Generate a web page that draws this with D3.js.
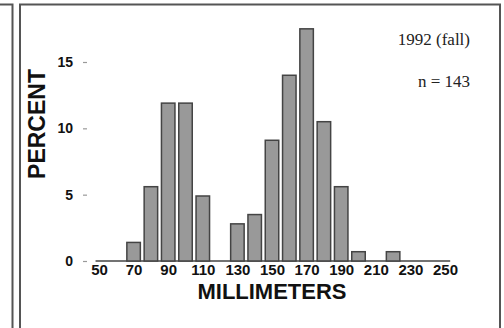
<!DOCTYPE html>
<html>
<head>
<meta charset="utf-8">
<script src="https://cdn.jsdelivr.net/npm/d3@7"></script>
<style>
  body { margin: 0; background: #fff; }
  svg { display: block; }
</style>
</head>
<body>
<div id="chart"></div>
<script>
// bin centres in millimeters and percent of fish in each bin
var sizes = [70, 80, 90, 100, 110, 130, 140, 150, 160, 170, 180, 190, 200, 220];
var percents = [1.4, 5.6, 11.9, 11.9, 4.9, 2.8, 3.5, 9.1, 14.0, 17.5, 10.5, 5.6, 0.7, 0.7];
var xTicks = [50, 70, 90, 110, 130, 150, 170, 190, 210, 230, 250];
var yTicks = [0, 5, 10, 15];

var width = 504, height = 328;

var svg = d3.select('#chart').append('svg')
    .attr('width', width)
    .attr('height', height);

// frame lines of the scanned page
svg.append('path')
    .attr('d', 'M0,4.5H12.5V328')
    .attr('fill', 'none')
    .attr('stroke', '#555')
    .attr('stroke-width', 2);
svg.append('rect')
    .attr('x', 20).attr('y', 4.5)
    .attr('width', 480).attr('height', 340)
    .attr('fill', 'none')
    .attr('stroke', '#555')
    .attr('stroke-width', 2);

// set the ranges
var x = d3.scaleLinear().domain([50, 250]).range([99, 445]);
var y = d3.scaleLinear().domain([0, 15]).range([261, 62]);

var binHalf = 3.9;

// baseline
svg.append('line')
    .attr('x1', x(48)).attr('x2', x(253))
    .attr('y1', y(0)).attr('y2', y(0))
    .attr('stroke', '#444')
    .attr('stroke-width', 1.5);

// bars
svg.selectAll('rect.bar')
    .data(sizes)
  .enter().append('rect')
    .attr('class', 'bar')
    .attr('x', function(d) { return x(d - binHalf); })
    .attr('width', function(d) { return x(d + binHalf) - x(d - binHalf); })
    .attr('y', function(d, i) { return y(percents[i]); })
    .attr('height', function(d, i) { return y(0) - y(percents[i]); })
    .attr('fill', '#999')
    .attr('stroke', '#444')
    .attr('stroke-width', 1.5);

// x axis labels
var xAxis = d3.axisBottom(x)
    .tickValues(xTicks)
    .tickSize(0)
    .tickPadding(0);
var gx = svg.append('g')
    .attr('transform', 'translate(0,' + 264 + ')')
    .call(xAxis);
gx.select('.domain').remove();
gx.selectAll('text')
    .attr('dy', '0.71em')
    .attr('font-family', 'Liberation Sans, Arial, sans-serif')
    .attr('font-weight', 'bold')
    .attr('font-size', '15px')
    .attr('fill', '#111');

// y axis: short dashes and labels, no axis line
var yAxis = d3.axisLeft(y)
    .tickValues(yTicks)
    .tickSize(4)
    .tickPadding(10);
var gy = svg.append('g')
    .attr('transform', 'translate(' + 87 + ',0)')
    .call(yAxis);
gy.select('.domain').remove();
gy.selectAll('.tick line')
    .attr('stroke', '#999')
    .attr('stroke-width', 1.2);
gy.selectAll('text')
    .attr('font-family', 'Liberation Sans, Arial, sans-serif')
    .attr('font-weight', 'bold')
    .attr('font-size', '14px')
    .attr('fill', '#111');

// axis titles
svg.append('text')
    .attr('transform', 'translate(45,124) rotate(-90)')
    .attr('text-anchor', 'middle')
    .attr('font-family', 'Liberation Sans, Arial, sans-serif')
    .attr('font-weight', 'bold')
    .attr('font-size', '23px')
    .attr('fill', '#111')
    .text('PERCENT');

svg.append('text')
    .attr('x', 272)
    .attr('y', 299)
    .attr('text-anchor', 'middle')
    .attr('font-family', 'Liberation Sans, Arial, sans-serif')
    .attr('font-weight', 'bold')
    .attr('font-size', '22px')
    .attr('fill', '#111')
    .text('MILLIMETERS');

// annotations
svg.append('text')
    .attr('x', 470)
    .attr('y', 45)
    .attr('text-anchor', 'end')
    .attr('font-family', 'Liberation Serif, Times New Roman, serif')
    .attr('font-size', '17px')
    .attr('fill', '#222')
    .text('1992 (fall)');

svg.append('text')
    .attr('x', 470)
    .attr('y', 87)
    .attr('text-anchor', 'end')
    .attr('font-family', 'Liberation Serif, Times New Roman, serif')
    .attr('font-size', '17px')
    .attr('fill', '#222')
    .text('n = 143');
</script>
</body>
</html>
